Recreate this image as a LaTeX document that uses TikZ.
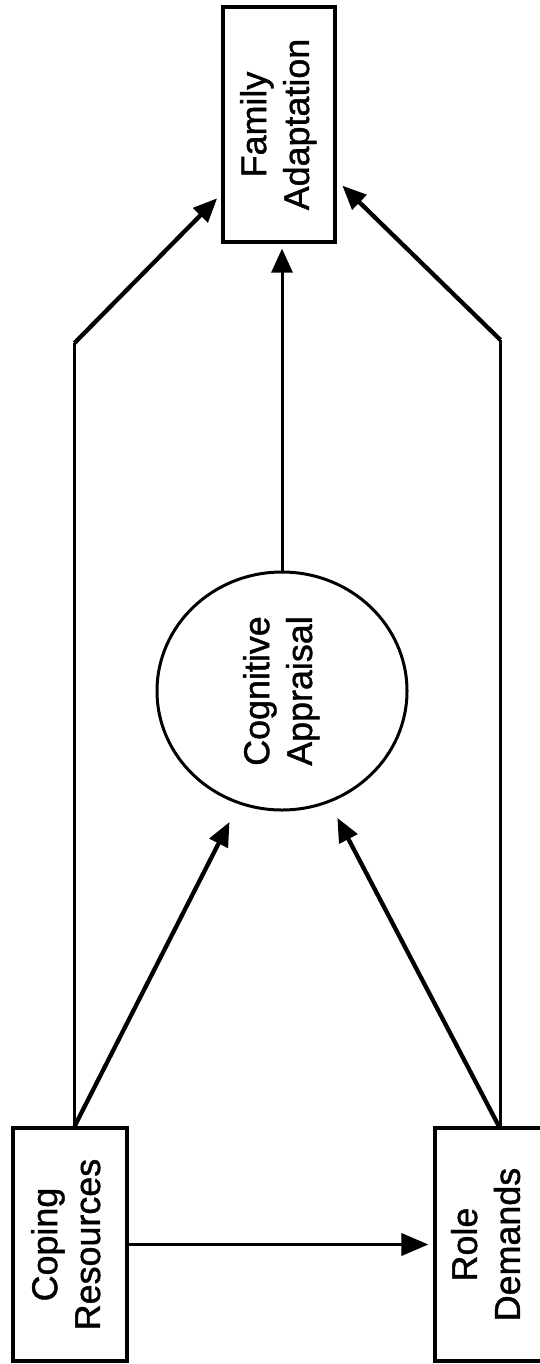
\documentclass[tikz,border=0pt]{standalone}
\usepackage{fontspec}
\setmainfont[FakeBold=1.2]{Liberation Sans}
\usetikzlibrary{arrows.meta,shapes.geometric}
\newcommand\vlabel[2]{\rotatebox{90}{\fontsize{36}{43}\selectfont\begin{tabular}{@{}c@{}}#1\\#2\end{tabular}}}
\begin{document}
\begin{tikzpicture}[x=1bp,y=-1bp,
  box/.style={draw,rectangle,line width=3.2bp,inner sep=0pt},
  ring/.style={draw,ellipse,line width=3bp,inner sep=0pt,minimum width=250bp,minimum height=238bp},
  arr/.style={-{Triangle[length=24bp,width=20bp]},line width=4.3bp},
  varr/.style={-{Triangle[length=24bp,width=21bp]},line width=3bp},
  harr/.style={-{Triangle[length=27bp,width=22bp]},line width=3.5bp},
  ln/.style={line width=2.6bp}]
\useasboundingbox (0,0) rectangle (540,1364);
% nodes
\node[box,minimum width=112bp,minimum height=235bp] (fam) at (279,124.5) {\vlabel{Family}{Adaptation}};
\node[ring] (cog) at (282,691) {\vlabel{Cognitive}{Appraisal}};
\node[box,minimum width=114bp,minimum height=233bp] (cop) at (70,1244.5) {\vlabel{Coping}{Resources}};
\node[box,minimum width=124bp,minimum height=233bp,text width=100bp,align=left] (role) at (497,1244.5) {\vlabel{Role}{Demands}};
% bend points
\coordinate (cl) at (74.5,343);
\coordinate (cr) at (500.5,340);
% connectors
\draw[harr,shorten >=5bp] (cop.east) -- (role.west);
\draw[varr,shorten >=5bp] (cog.north) -- (cog.north |- fam.south);
\draw[ln] ([xshift=4.5bp]cop.north) -- (cl);
\draw[arr,shorten >=6bp] (cl) -- (fam.west |- 0,194);
\draw[ln] ([xshift=3.5bp]role.north) -- (cr);
\draw[arr,shorten >=8bp] (cr) -- (fam.east |- 0,180);
\draw[arr,shorten >=20bp] ([xshift=4.5bp]cop.north) -- (cog.249);
\draw[arr,shorten >=17bp] ([xshift=2bp]role.north) -- (cog.293);
\end{tikzpicture}
\end{document}
